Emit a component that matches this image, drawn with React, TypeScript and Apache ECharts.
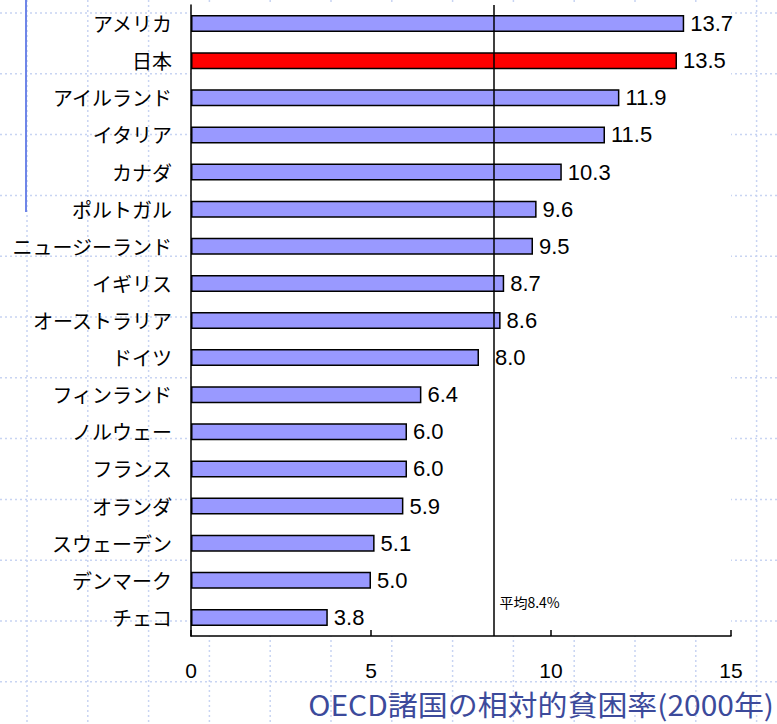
import React, { useEffect, useRef } from "react";
import * as echarts from "echarts";

const categories = [
  "アメリカ",
  "日本",
  "アイルランド",
  "イタリア",
  "カナダ",
  "ポルトガル",
  "ニュージーランド",
  "イギリス",
  "オーストラリア",
  "ドイツ",
  "フィンランド",
  "ノルウェー",
  "フランス",
  "オランダ",
  "スウェーデン",
  "デンマーク",
  "チェコ",
];
const values = [13.7, 13.5, 11.9, 11.5, 10.3, 9.6, 9.5, 8.7, 8.6, 8.0, 6.4, 6.0, 6.0, 5.9, 5.1, 5.0, 3.8];
const highlightCategory = "日本";
const shiftedLabelCategory = "ドイツ";
const meanValue = 8.4;
const meanLabel = "平均8.4%";
const xMin = 0;
const xMax = 15;
const xInterval = 5;
const chartTitle = "OECD諸国の相対的貧困率(2000年)";

const latinFont = "'Liberation Sans', Arial, sans-serif";
const jpFont = "'Noto Sans CJK JP', sans-serif";

export default function App() {
  const ref = useRef<HTMLDivElement>(null);

  useEffect(() => {
    if (!ref.current) return;
    const chart = echarts.init(ref.current, null, { renderer: "svg" });

    const data = values.map((v, i) => {
      const item: any = { value: v };
      if (categories[i] === highlightCategory) {
        item.itemStyle = { color: "#ff0000" };
      }
      if (categories[i] === shiftedLabelCategory) {
        item.label = { distance: 16 };
      }
      return item;
    });

    chart.setOption({
      animation: false,
      grid: {
        left: 191,
        right: 46,
        top: 5,
        bottom: 88,
        show: true,
        backgroundColor: "#ffffff",
        borderWidth: 0,
        z: 2,
      },
      xAxis: {
        type: "value",
        min: xMin,
        max: xMax,
        interval: xInterval,
        axisLine: { show: true, lineStyle: { color: "#000", width: 1.5 } },
        axisTick: { show: true, inside: true, length: 6, lineStyle: { color: "#000", width: 1.5 } },
        splitLine: { show: false },
        axisLabel: {
          fontSize: 21,
          color: "#000",
          margin: 24,
          fontFamily: latinFont,
        },
        z: 3,
      },
      yAxis: {
        type: "category",
        data: categories,
        inverse: true,
        axisLine: { show: true, lineStyle: { color: "#000", width: 1.5 } },
        axisTick: { show: false },
        splitLine: { show: false },
        axisLabel: {
          fontSize: 20,
          color: "#000",
          margin: 19,
          fontFamily: jpFont,
        },
        z: 3,
      },
      series: [
        {
          type: "bar",
          data,
          barWidth: 17,
          z: 3,
          itemStyle: { color: "#9999ff", borderColor: "#000", borderWidth: 1.5 },
          label: {
            show: true,
            position: "right",
            distance: 6,
            fontSize: 22,
            color: "#000",
            fontFamily: latinFont,
            formatter: (p: any) => Number(p.value).toFixed(1),
          },
          markLine: {
            silent: true,
            symbol: "none",
            label: { show: false },
            lineStyle: { color: "#000", width: 1.5, type: "solid" },
            data: [{ xAxis: meanValue }],
          },
        },
      ],
    });

    const px = chart.convertToPixel({ xAxisIndex: 0 }, meanValue) as number;
    const py = chart.convertToPixel({ yAxisIndex: 0 }, categories[categories.length - 1]) as number;

    const elements: any[] = [];
    for (let i = 0; i < 13; i++) {
      const x = 27 + i * 60.8;
      elements.push({
        type: "line",
        silent: true,
        z: -10,
        shape: { x1: x, y1: 0, x2: x, y2: 724 },
        style: { stroke: "#c8d4f2", lineWidth: 1.5, lineDash: [2, 3] },
      });
    }
    for (let j = 0; j < 12; j++) {
      const y = 13 + j * 60.8;
      elements.push({
        type: "line",
        silent: true,
        z: -10,
        shape: { x1: 0, y1: y, x2: 777, y2: y },
        style: { stroke: "#c8d4f2", lineWidth: 1.5, lineDash: [2, 3] },
      });
    }
    elements.push({
      type: "line",
      silent: true,
      z: -5,
      shape: { x1: 26, y1: 0, x2: 26, y2: 212 },
      style: { stroke: "#6f86e8", lineWidth: 2 },
    });
    elements.push({
      type: "text",
      silent: true,
      z: 10,
      x: px + 6,
      y: py - 15,
      style: {
        text: meanLabel,
        fontSize: 14,
        fill: "#000",
        fontFamily: jpFont,
        textAlign: "left",
        textVerticalAlign: "middle",
      },
    });
    elements.push({
      type: "text",
      silent: true,
      z: 10,
      x: 774,
      y: 703,
      scaleX: 1.07,
      style: {
        text: chartTitle,
        fontSize: 28,
        fill: "#3c4a9b",
        fontFamily: jpFont,
        textAlign: "right",
        textVerticalAlign: "middle",
      },
    });

    chart.setOption({ graphic: { elements } });

    return () => chart.dispose();
  }, []);

  return (
    <div
      ref={ref}
      style={{ position: "absolute", left: 0, top: 0, width: 777, height: 724 }}
    />
  );
}
